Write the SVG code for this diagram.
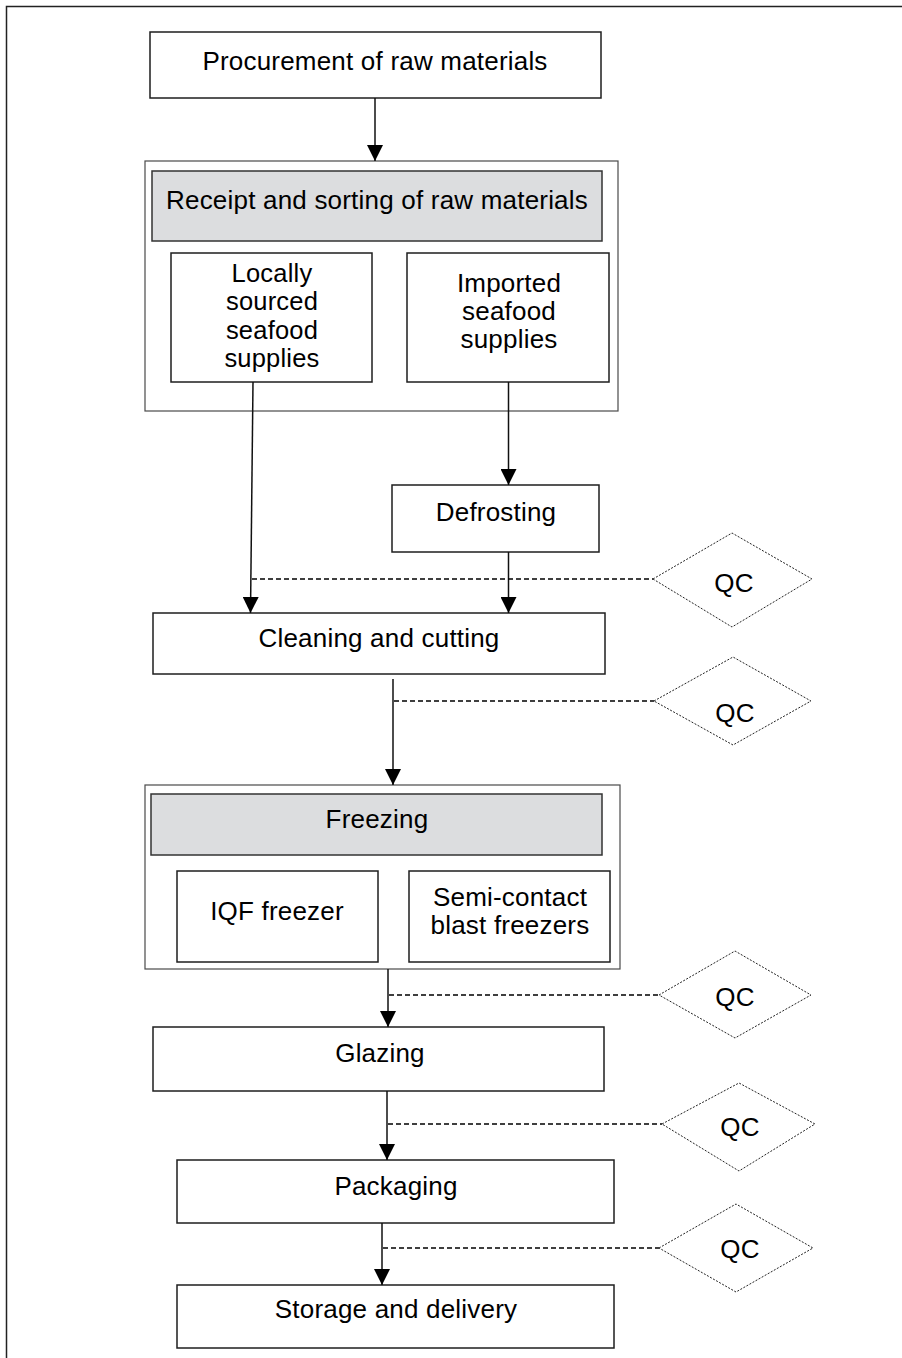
<svg xmlns="http://www.w3.org/2000/svg" width="902" height="1358" viewBox="0 0 902 1358">
  <defs>
    <style>
      .box { fill: #ffffff; stroke: #1e1e1e; stroke-width: 1.5; }
      .group { fill: #ffffff; stroke: #4a4a4a; stroke-width: 1.2; }
      .head { fill: #dcdddf; stroke: #333333; stroke-width: 1.5; }
      .qc { fill: #ffffff; stroke: #222222; stroke-width: 1; stroke-dasharray: 2 1.5; }
      .flow { fill: none; stroke: #111111; stroke-width: 1.5; }
      .check { fill: none; stroke: #000000; stroke-width: 1.3; stroke-dasharray: 5 3; }
      text { font-family: "Liberation Sans", Arial, sans-serif; font-size: 26px; letter-spacing: 0.2px; fill: #000000; text-anchor: middle; }
      .tight { font-size: 25.5px; }
    </style>
    <marker id="arrow" viewBox="0 0 16 16" refX="16" refY="8" markerWidth="16" markerHeight="16" markerUnits="userSpaceOnUse" orient="auto">
      <path d="M0,0 L16,8 L0,16 Z" fill="#000000"/>
    </marker>
  </defs>

  <!-- page frame -->
  <path d="M6.5,1358 V6.5 H902" fill="none" stroke="#222222" stroke-width="1.5"/>

  <g id="procurement">
    <rect class="box" x="150" y="32" width="451" height="66"/>
    <text x="375" y="70">Procurement of raw materials</text>
  </g>

  <g id="receipt-group">
    <rect class="group" x="145" y="161" width="473" height="250"/>
  </g>
  <g id="receipt">
    <rect class="head" x="152" y="171" width="450" height="70"/>
    <text x="377" y="209">Receipt and sorting of raw materials</text>
  </g>
  <g id="local">
    <rect class="box" x="171" y="253" width="201" height="129"/>
    <text class="tight" x="272" y="281.5">Locally</text>
    <text class="tight" x="272" y="310">sourced</text>
    <text class="tight" x="272" y="338.5">seafood</text>
    <text class="tight" x="272" y="367">supplies</text>
  </g>
  <g id="imported">
    <rect class="box" x="407" y="253" width="202" height="129"/>
    <text x="509" y="292">Imported</text>
    <text x="509" y="320">seafood</text>
    <text x="509" y="348">supplies</text>
  </g>

  <g id="defrosting">
    <rect class="box" x="392" y="485" width="207" height="67"/>
    <text x="496" y="521">Defrosting</text>
  </g>

  <g id="cleaning">
    <rect class="box" x="153" y="613" width="452" height="61"/>
    <text x="379" y="647">Cleaning and cutting</text>
  </g>

  <g id="freezing-group">
    <rect class="group" x="145" y="785" width="475" height="184"/>
  </g>
  <g id="freezing">
    <rect class="head" x="151" y="794" width="451" height="61"/>
    <text x="377" y="828">Freezing</text>
  </g>
  <g id="iqf">
    <rect class="box" x="177" y="871" width="201" height="91"/>
    <text x="277" y="920">IQF freezer</text>
  </g>
  <g id="semi-contact">
    <rect class="box" x="409" y="871" width="201" height="91"/>
    <text x="510" y="906">Semi-contact</text>
    <text x="510" y="934">blast freezers</text>
  </g>

  <g id="glazing">
    <rect class="box" x="153" y="1027" width="451" height="64"/>
    <text x="380" y="1062">Glazing</text>
  </g>
  <g id="packaging">
    <rect class="box" x="177" y="1160" width="437" height="63"/>
    <text x="396" y="1195">Packaging</text>
  </g>
  <g id="storage">
    <rect class="box" x="177" y="1285" width="437" height="63"/>
    <text x="396" y="1318">Storage and delivery</text>
  </g>

  <!-- quality control points -->
  <g id="qc1">
    <polygon class="qc" points="653,579 732,533 812,579 732,627"/>
    <text x="734" y="592">QC</text>
  </g>
  <g id="qc2">
    <polygon class="qc" points="654,701 733,657 811,701 733,745"/>
    <text x="735" y="722">QC</text>
  </g>
  <g id="qc3">
    <polygon class="qc" points="659,995 735,951 811,995 735,1038"/>
    <text x="735" y="1006">QC</text>
  </g>
  <g id="qc4">
    <polygon class="qc" points="662,1124 739,1083 815,1124 739,1171"/>
    <text x="740" y="1136">QC</text>
  </g>
  <g id="qc5">
    <polygon class="qc" points="659,1248 736,1204 813,1248 736,1292"/>
    <text x="740" y="1258">QC</text>
  </g>

  <g id="connectors">
    <line class="flow" x1="375" y1="98" x2="375" y2="161" marker-end="url(#arrow)"/>
    <line class="flow" x1="253" y1="382" x2="250.5" y2="613" marker-end="url(#arrow)"/>
    <line class="flow" x1="508.5" y1="382" x2="508.5" y2="485" marker-end="url(#arrow)"/>
    <line class="flow" x1="508.5" y1="552" x2="508.5" y2="613" marker-end="url(#arrow)"/>
    <line class="flow" x1="393" y1="679" x2="393" y2="785" marker-end="url(#arrow)"/>
    <line class="flow" x1="388" y1="969" x2="388" y2="1027" marker-end="url(#arrow)"/>
    <line class="flow" x1="387" y1="1091" x2="387" y2="1160" marker-end="url(#arrow)"/>
    <line class="flow" x1="382" y1="1223" x2="382" y2="1285" marker-end="url(#arrow)"/>

    <line class="check" x1="252" y1="579" x2="653" y2="579"/>
    <line class="check" x1="394" y1="701" x2="654" y2="701"/>
    <line class="check" x1="389" y1="995" x2="659" y2="995"/>
    <line class="check" x1="388" y1="1124" x2="662" y2="1124"/>
    <line class="check" x1="383" y1="1248" x2="659" y2="1248"/>
  </g>
</svg>
